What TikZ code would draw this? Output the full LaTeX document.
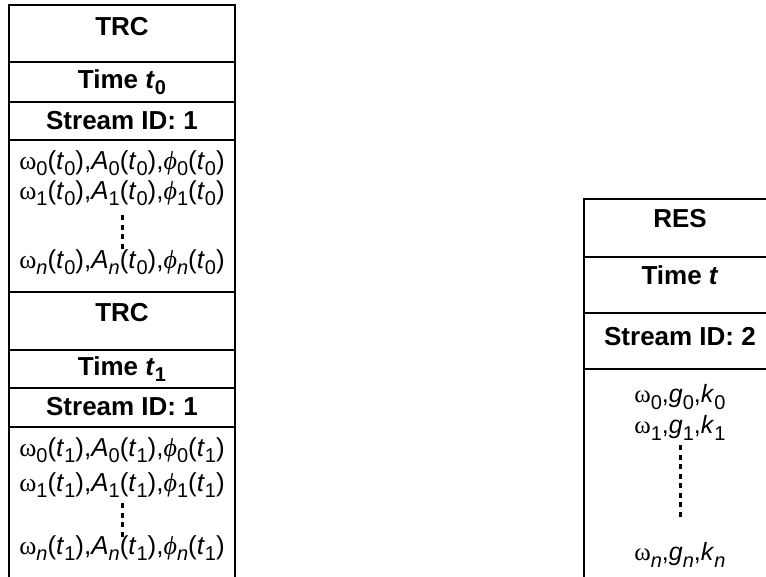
\documentclass[tikz,border=0pt]{standalone}
\usepackage{fontspec}
\setmainfont{Liberation Sans}
\newfontfamily\grk{Liberation Serif}
\usetikzlibrary{calc}

% subscript set a little smaller and lowered
\newcommand\lo[1]{\raisebox{-0.25em}{\fontsize{20}{20}\selectfont #1}}
\newcommand\om{{\grk ω}}
\newcommand\ph{{\grk\itshape ϕ}}
\newcommand\ti{\textit{t}}

\tikzset{
  rule/.style={line width=2.5pt, line cap=rect},
  head/.style={font=\bfseries\fontsize{26}{26}\selectfont, inner sep=0pt, anchor=center},
  datum/.style={font=\fontsize{26}{26}\selectfont, inner sep=0pt, anchor=center},
  rdatum/.style={datum, font=\fontsize{25}{25}\selectfont},
  dotline/.style={line width=3pt, dash pattern=on 5pt off 4.5pt}
}

\begin{document}
\begin{tikzpicture}[x=1pt,y=-1pt]
\useasboundingbox (0,0) rectangle (766,576);
\clip (0,0) rectangle (766,576);

% ---- left column: two TRC frames ----
\draw[rule] (9,580) -- (9,5) -- (235,5) -- (235,580);
\foreach \y in {62,102,140,292,350,388,427}
  \draw[rule] (9,\y) -- (235,\y);

\node[head] (trcA)  at (122,27)  {TRC};
\node[head] (timeA) at (122,82)  {Time \textit{t}\lo{0}};
\node[head] (sidA)  at (122,121) {Stream ID: 1};
\node[datum] (a0) at (122,163) {\om\lo{0}(\ti\lo{0}),\textit{A}\lo{0}(\ti\lo{0}),\ph\lo{0}(\ti\lo{0})};
\node[datum] (a1) at (122,193) {\om\lo{1}(\ti\lo{0}),\textit{A}\lo{1}(\ti\lo{0}),\ph\lo{1}(\ti\lo{0})};
\node[datum] (an) at (122,262) {\om\lo{\textit{n}}(\ti\lo{0}),\textit{A}\lo{\textit{n}}(\ti\lo{0}),\ph\lo{\textit{n}}(\ti\lo{0})};
\coordinate (dAtop) at (122,215);
\coordinate (dAbot) at (122,253);
\draw[dotline] (dAtop) -- (dAbot);

\node[head] (trcB)  at (122,313) {TRC};
\node[head] (timeB) at (122,369) {Time \textit{t}\lo{1}};
\node[head] (sidB)  at (122,407) {Stream ID: 1};
\node[datum] (b0) at (122,450) {\om\lo{0}(\ti\lo{1}),\textit{A}\lo{0}(\ti\lo{1}),\ph\lo{0}(\ti\lo{1})};
\node[datum] (b1) at (122,485) {\om\lo{1}(\ti\lo{1}),\textit{A}\lo{1}(\ti\lo{1}),\ph\lo{1}(\ti\lo{1})};
\node[datum] (bn) at (122,548) {\om\lo{\textit{n}}(\ti\lo{1}),\textit{A}\lo{\textit{n}}(\ti\lo{1}),\ph\lo{\textit{n}}(\ti\lo{1})};
\coordinate (dBtop) at (122,503);
\coordinate (dBbot) at (122,540);
\draw[dotline] (dBtop) -- (dBbot);

% ---- right column: RES frame ----
\draw[rule] (584,580) -- (584,199) -- (780,199);
\foreach \y in {257,313,369}
  \draw[rule] (584,\y) -- (780,\y);

\node[head] (res)   at (680,219) {RES};
\node[head] (timeR) at (680,275) {Time \textit{t}};
\node[head] (sidR)  at (680,337) {Stream ID: 2};
\node[rdatum] (r0) at (680,397) {\om\lo{0},\textit{g}\lo{0},\textit{k}\lo{0}};
\node[rdatum] (r1) at (680,428) {\om\lo{1},\textit{g}\lo{1},\textit{k}\lo{1}};
\node[rdatum] (rn) at (680,555) {\om\lo{\textit{n}},\textit{g}\lo{\textit{n}},\textit{k}\lo{\textit{n}}};
\coordinate (dRtop) at (680,445);
\coordinate (dRbot) at (680,519);
\draw[dotline] (dRtop) -- (dRbot);
\end{tikzpicture}
\end{document}
